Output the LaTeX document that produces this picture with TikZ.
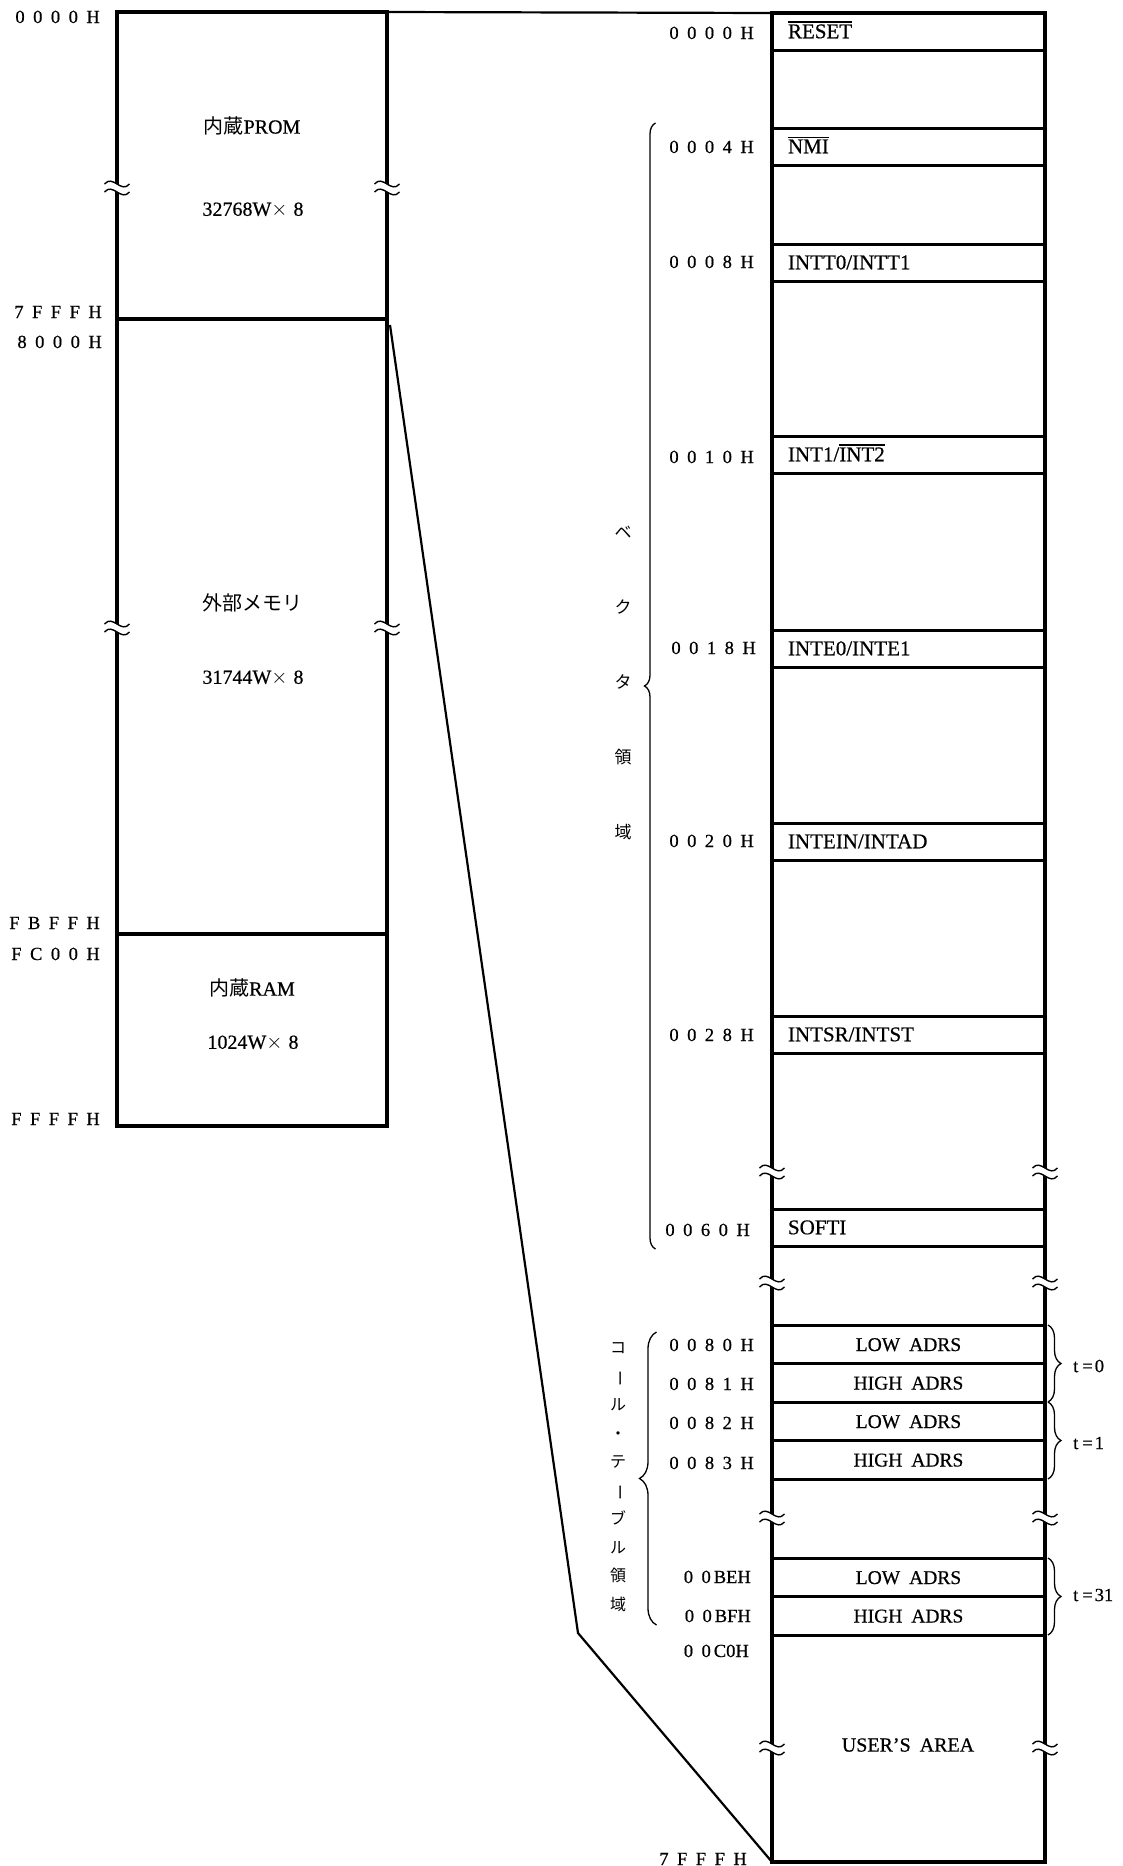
\documentclass[tikz,border=0pt]{standalone}
\usepackage{fontspec}
\setmainfont{Liberation Serif}[FakeBold=0.6]
\newfontfamily\jp{Noto Sans CJK JP}
\usetikzlibrary{decorations.pathreplacing}
\newcommand\adsp{\hspace{8.5pt}}
\newcommand\ovl[1]{\leavevmode\vbox{\hrule height 1.3pt\kern 1.6pt\hbox{#1}}}
\newcommand\vbar{\rotatebox[origin=c]{-90}{ー}}
\newcommand\tms{$\times$\hspace{6pt}}
\begin{document}
\begin{tikzpicture}[x=1pt,y=-1pt,
  blk/.style={draw, line width=3.2pt, anchor=north west, inner sep=0pt, outer sep=0pt, minimum width=270pt},
  vrow/.style={draw, line width=3pt, anchor=north west, inner sep=0pt, outer sep=0pt, minimum width=273pt, minimum height=37pt, text width=241pt, align=left, text height=13.5pt, text depth=0pt, font=\fontsize{21}{25}\selectfont},
  arow/.style={vrow, minimum height=38.5pt, align=center, font=\fontsize{19.5}{23}\selectfont},
  adr/.style={anchor=base east, inner sep=0pt, font=\fontsize{18.5}{22}\selectfont},
  lbl/.style={inner sep=0pt, font=\fontsize{20}{24}\selectfont},
  tlbl/.style={anchor=west, inner sep=0pt, font=\fontsize{18.5}{22}\selectfont},
  conn/.style={line width=2.2pt},
  vtext/.style={inner sep=0pt, align=center, font=\jp\fontsize{17}{75}\selectfont},
  ctext/.style={inner sep=0pt, align=center, font=\jp\fontsize{16}{28.5}\selectfont},
  bracel/.style={decorate, decoration={brace, amplitude=#1}, line width=1.3pt},
  brk/.pic={
    \fill[white] (-12.5,-4) .. controls (-4,-14) and (4,6) .. (12.5,-4) -- (12.5,4) .. controls (4,14) and (-4,-6) .. (-12.5,4) -- cycle;
    \draw[line width=1.4pt] (-12.5,-4) .. controls (-4,-14) and (4,6) .. (12.5,-4);
    \draw[line width=1.4pt] (-12.5,4) .. controls (-4,-6) and (4,14) .. (12.5,4);
  }
]
\useasboundingbox (0,0) rectangle (1122,1866);

% ---------- left memory map ----------
\node[blk, minimum height=307pt] (prom) at (117,12) {};
\node[blk, minimum height=615pt] (ext) at (117,319) {};
\node[blk, minimum height=192pt] (ram) at (117,934) {};

\node[lbl] (promname) at (252,126) {{\jp 内蔵}PROM};
\node[lbl] (promsize) at (253,210) {32768W\tms8};
\node[lbl] (extname) at (252,603) {\jp 外部メモリ};
\node[lbl] (extsize) at (253,678) {31744W\tms8};
\node[lbl] (ramname) at (252,988) {{\jp 内蔵}RAM};
\node[lbl] (ramsize) at (253,1043) {1024W\tms8};

\node[adr] (l0000) at (100,23) {0\adsp0\adsp0\adsp0\adsp H};
\node[adr] (l7fff) at (102,318) {7\adsp F\adsp F\adsp F\adsp H};
\node[adr] (l8000) at (102,348) {8\adsp0\adsp0\adsp0\adsp H};
\node[adr] (lfbff) at (100,929) {F\adsp B\adsp F\adsp F\adsp H};
\node[adr] (lfc00) at (100,960) {F\adsp C\adsp0\adsp0\adsp H};
\node[adr] (lffff) at (100,1125) {F\adsp F\adsp F\adsp F\adsp H};

% ---------- right detail map ----------
\node[blk, minimum width=273pt, minimum height=1849pt] (rbox) at (772,13) {};

\node[vrow] (rst) at (772,13) {\ovl{RESET}};
\node[vrow] (nmi) at (772,128) {\ovl{NMI}};
\node[vrow] (intt) at (772,244) {INTT0/INTT1};
\node[vrow] (int1) at (772,436) {INT1/\ovl{INT2}};
\node[vrow] (inte) at (772,630) {INTE0/INTE1};
\node[vrow] (intein) at (772,823) {INTEIN/INTAD};
\node[vrow] (intsr) at (772,1016) {INTSR/INTST};
\node[vrow] (softi) at (772,1209) {SOFTI};

\node[arow] (r80) at (772,1325) {LOW\hspace{9pt}ADRS};
\node[arow] (r81) at (772,1363.5) {HIGH\hspace{9pt}ADRS};
\node[arow] (r82) at (772,1402) {LOW\hspace{9pt}ADRS};
\node[arow] (r83) at (772,1440.5) {HIGH\hspace{9pt}ADRS};
\node[arow] (rbe) at (772,1558) {LOW\hspace{9pt}ADRS};
\node[arow] (rbf) at (772,1596.5) {HIGH\hspace{9pt}ADRS};

\node[lbl] (user) at (908,1745) {USER’S\hspace{9pt}AREA};

\node[adr] (a0000) at (754,39) {0\adsp0\adsp0\adsp0\adsp H};
\node[adr] (a0004) at (754,153) {0\adsp0\adsp0\adsp4\adsp H};
\node[adr] (a0008) at (754,268) {0\adsp0\adsp0\adsp8\adsp H};
\node[adr] (a0010) at (754,463) {0\adsp0\adsp1\adsp0\adsp H};
\node[adr] (a0018) at (756,654) {0\adsp0\adsp1\adsp8\adsp H};
\node[adr] (a0020) at (754,847) {0\adsp0\adsp2\adsp0\adsp H};
\node[adr] (a0028) at (754,1041) {0\adsp0\adsp2\adsp8\adsp H};
\node[adr] (a0060) at (750,1236) {0\adsp0\adsp6\adsp0\adsp H};
\node[adr] (a0080) at (754,1351) {0\adsp0\adsp8\adsp0\adsp H};
\node[adr] (a0081) at (754,1390) {0\adsp0\adsp8\adsp1\adsp H};
\node[adr] (a0082) at (754,1429) {0\adsp0\adsp8\adsp2\adsp H};
\node[adr] (a0083) at (754,1469) {0\adsp0\adsp8\adsp3\adsp H};
\node[adr] (a00be) at (751,1583) {0\adsp0\hspace{3pt}BEH};
\node[adr] (a00bf) at (751,1622) {0\adsp0\hspace{3pt}BFH};
\node[adr] (a00c0) at (749,1657) {0\adsp0\hspace{3pt}C0H};
\node[adr] (a7fff) at (747,1865) {7\adsp F\adsp F\adsp F\adsp H};

% ---------- break marks ----------
\pic at (117,188) {brk};
\pic at (387,188) {brk};
\pic at (117,628) {brk};
\pic at (387,628) {brk};
\pic at (772,1172) {brk};
\pic at (1045,1172) {brk};
\pic at (772,1283) {brk};
\pic at (1045,1283) {brk};
\pic at (772,1518) {brk};
\pic at (1045,1518) {brk};
\pic at (772,1748) {brk};
\pic at (1045,1748) {brk};

% ---------- connectors ----------
\coordinate (kink) at (578,1633);
\draw[conn] (prom.north east) -- (rbox.north west);
\draw[conn] ([shift={(3,6)}]ext.north east) -- (kink) -- (rbox.south west);

% ---------- braces and their labels ----------
\draw[bracel=11pt] (655.5,1249) -- (655.5,123);
\node[vtext] (vec) at (623,683) {ベ\\ク\\タ\\領\\域};

\draw[bracel=17pt] (656.5,1625) -- (656.5,1332);
\node[ctext] (call) at (618,1477) {コ\\\vbar\\ル\\・\\テ\\\vbar\\ブ\\ル\\領\\域};

\draw[bracel=13pt] ([xshift=3pt]r80.north east) -- ([xshift=3pt]r81.south east);
\node[tlbl] (t0) at (1073,1366) {t\hspace{4pt}=\hspace{2pt}0};
\draw[bracel=13pt] ([xshift=3pt]r82.north east) -- ([xshift=3pt]r83.south east);
\node[tlbl] (t1) at (1073,1443) {t\hspace{4pt}=\hspace{2pt}1};
\draw[bracel=13pt] ([xshift=3pt]rbe.north east) -- ([xshift=3pt]rbf.south east);
\node[tlbl] (t31) at (1073,1595) {t\hspace{4pt}=\hspace{2pt}31};
\end{tikzpicture}
\end{document}
